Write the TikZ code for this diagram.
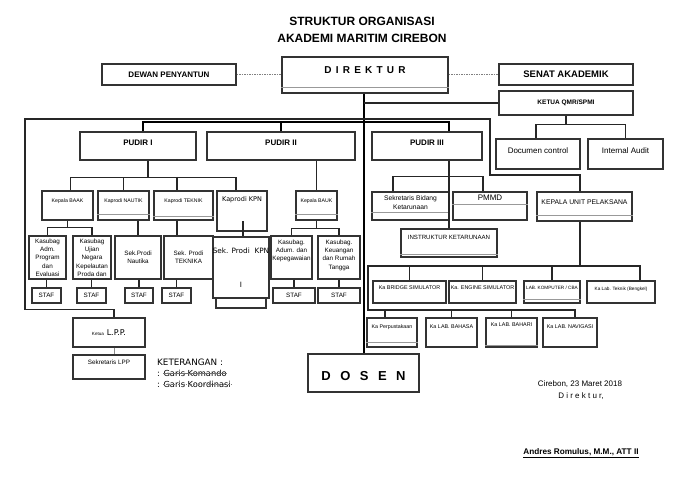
\documentclass[tikz,border=0pt]{standalone}
\usepackage{fontspec}
\setmainfont{Liberation Sans}
\newfontfamily\dvs{DejaVu Sans}

\newcommand{\fsz}[2]{\fontsize{#1}{#2}\selectfont}

\begin{document}
\begin{tikzpicture}[x=1pt, y=-1pt,
    corners/.style n args={4}{at={({(#1+#3)/2},{(#2+#4)/2})}, minimum width=#3-#1, minimum height=#4-#2},
    box/.style={draw=black!80, line width=1.1pt, fill=white, inner sep=0pt, align=center},
    lbl/.style={inner sep=0pt, align=center},
    lift/.style={text depth=#1},
    inner/.style={draw=black!40, line width=0.6pt},
    cmd/.style={draw=black!85, line width=1.2pt},
    main/.style={draw=black, line width=2pt},
    coord/.style={draw=black!50, line width=0.6pt, dash pattern=on 1.5pt off 1pt},
    pud/.style={font=\bfseries\fsz{8}{8}},
    kepala/.style={font=\fsz{5.2}{6}},
    sub/.style={font=\fsz{6.3}{8.3}},
    staf/.style={font=\fsz{6.3}{6.3}},
    lab/.style={font=\fsz{5.4}{6}}]
    \useasboundingbox (0,0) rectangle (700,494);

    % judul
    \node[lbl, font=\bfseries\fsz{12}{12}] (judul1) at (362,21) {STRUKTUR ORGANISASI};
    \node[lbl, font=\bfseries\fsz{12}{12}] (judul2) at (362,38) {AKADEMI MARITIM CIREBON};

    % pimpinan
    \node[box, corners={282}{57}{448}{93}, lift=10pt, font=\bfseries\fsz{10}{10}] (dir) {\spaceskip=4.2pt D I R E K T U R};
    \node[box, corners={102}{64}{236}{85}, font=\bfseries\fsz{8}{8}] (dewan) {DEWAN PENYANTUN};
    \node[box, corners={499}{64}{633}{85}, font=\bfseries\fsz{9.5}{9.5}] (senat) {SENAT AKADEMIK};
    \node[box, corners={499}{91}{633}{115}, font=\bfseries\fsz{6.5}{6.5}] (qmr) {KETUA QMR/SPMI};
    \node[box, corners={496}{139}{580}{169}, lift=6pt, font=\fsz{8}{8}] (doc) {Documen control};
    \node[box, corners={588}{139}{663}{169}, lift=6pt, font=\fsz{8}{8}] (audit) {Internal Audit};

    \node[box, pud, corners={80}{132}{196}{160}, lift=6pt] (pud1) {PUDIR I};
    \node[box, pud, corners={207}{132}{355}{160}, lift=6pt] (pud2) {PUDIR II};
    \node[box, pud, corners={372}{132}{482}{160}, lift=6pt] (pud3) {PUDIR III};

    % pudir I
    \node[box, kepala, corners={42}{191}{93}{220}, lift=9pt] (baak) {Kepala BAAK};
    \node[box, kepala, corners={98}{191}{149}{220}, lift=9pt] (naut) {Kaprodi NAUTIK};
    \node[box, kepala, corners={154}{191}{213}{220}, lift=9pt] (tek) {Kaprodi TEKNIK};
    \node[box, corners={217}{191}{267}{231}, lift=24pt, font=\dvs\fsz{6.5}{6.5}] (kpn) {Kaprodi KPN};
    \node[box, sub, corners={29}{236}{66}{279}] (kas1) {Kasubag\\Adm.\\Program\\dan\\Evaluasi};
    \node[box, sub, corners={73}{236}{111}{279}] (kas2) {Kasubag\\Ujian\\Negara\\Kepelautan\\Proda dan};
    \node[box, sub, corners={115}{236}{161}{279}] (sekn) {Sek.Prodi\\Nautika};
    \node[box, sub, corners={164}{236}{213}{279}] (sekt) {Sek. Prodi\\TEKNIKA};
    \node[box, corners={216}{297}{266}{308}] (kpnstaf) {};
    \node[box, corners={213}{237}{269}{298}] (sekkpn) {};
    \node[lbl, font=\dvs\fsz{7.3}{7.3}] (sekkpn1) at (241,251) {Sek. Prodi\ \ KPN};
    \node[lbl, font=\dvs\fsz{7.3}{7.3}] (sekkpn2) at (241,285) {I};
    \node[box, staf, corners={32}{288}{61}{303}] (staf1) {STAF};
    \node[box, staf, corners={77}{288}{106}{303}] (staf2) {STAF};
    \node[box, staf, corners={125}{288}{153}{303}] (stafn) {STAF};
    \node[box, staf, corners={162}{288}{191}{303}] (staft) {STAF};

    % pudir II
    \node[box, kepala, corners={296}{191}{337}{220}, lift=9pt] (bauk) {Kepala BAUK};
    \node[box, corners={271}{236}{312}{279}] (adum) {};
    \node[box, corners={318}{236}{360}{279}] (keu) {};
    \node[lbl, sub, anchor=north] (adumtxt) at (291.5,239.5) {Kasubag.\\Adum. dan\\Kepegawaian};
    \node[lbl, sub, anchor=north] (keutxt) at (339,239.5) {Kasubag.\\Keuangan\\dan Rumah\\Tangga};
    \node[box, staf, corners={273}{288}{315}{303}] (stafadum) {STAF};
    \node[box, staf, corners={318}{288}{360}{303}] (stafkeu) {STAF};

    % pudir III
    \node[box, corners={372}{192}{449}{220}] (sekbid) {};
    \node[lbl, font=\fsz{6.7}{9}] (sekbidtxt) at (410.5,202.5) {Sekretaris Bidang\\Ketarunaan};
    \node[box, corners={453}{192}{527}{220}, lift=16pt, font=\fsz{8}{8}] (pmmd) {PMMD};
    \node[box, corners={537}{192}{632}{221}, lift=9pt, font=\fsz{6.8}{6.8}] (kup) {KEPALA UNIT PELAKSANA};
    \node[box, corners={401}{229}{497}{257}, lift=12pt, font=\fsz{6.1}{6.1}] (instr) {INSTRUKTUR KETARUNAAN};

    % unit pelaksana
    \node[box, lab, corners={373}{281}{446}{303}, lift=8pt] (bridge) {Ka BRIDGE SIMULATOR};
    \node[box, lab, corners={449}{281}{516}{303}, lift=8pt] (engine) {Ka. ENGINE SIMULATOR};
    \node[box, corners={524}{281}{580}{303}, lift=9pt, font=\fsz{4.7}{4.7}] (komp) {LAB. KOMPUTER / CBA};
    \node[box, corners={587}{281}{655}{303}, lift=7pt, font=\fsz{4.7}{4.7}] (bengkel) {Ka Lab. Teknik (Bengkel)};
    \node[box, corners={367}{318}{417}{347}, lift=11pt, font=\fsz{5.3}{5.3}] (perpus) {Ka Perpustakaan};
    \node[box, lab, corners={426}{318}{477}{347}, lift=11pt] (bahasa) {Ka LAB. BAHASA};
    \node[box, lab, corners={486}{318}{537}{347}, lift=15pt] (bahari) {Ka LAB. BAHARI};
    \node[box, lab, corners={543}{318}{597}{347}, lift=11pt] (navi) {Ka LAB. NAVIGASI};

    % dosen dan lpp
    \node[box, corners={308}{354}{419}{392}, text height=15pt, font=\bfseries\fsz{13}{13}] (dosen) {\spaceskip=9.5pt D O S E N};
    \node[box, corners={73}{318}{145}{347}] (lpp) {{\fsz{4.6}{5}Ketua} {\dvs\fsz{8}{8}L.P.P.}};
    \node[box, corners={73}{355}{145}{379}, lift=10pt, font=\fsz{6.3}{6.3}] (seklpp) {Sekretaris LPP};

    % garis dalam
    \draw[inner] ([yshift=6pt]dir.south west) -- ([yshift=6pt]dir.south east);
    \draw[inner] ([yshift=6pt]naut.south west) -- ([yshift=6pt]naut.south east);
    \draw[inner] ([yshift=4pt]tek.south west) -- ([yshift=4pt]tek.south east);
    \draw[inner] ([yshift=6pt]bauk.south west) -- ([yshift=6pt]bauk.south east);
    \draw[inner] ([yshift=8pt]sekbid.south west) -- ([yshift=8pt]sekbid.south east);
    \draw[inner] ([yshift=16pt]pmmd.south west) -- ([yshift=16pt]pmmd.south east);
    \draw[inner] ([yshift=6pt]kup.south west) -- ([yshift=6pt]kup.south east);
    \draw[inner] ([yshift=3pt]instr.south west) -- ([yshift=3pt]instr.south east);
    \draw[inner] ([yshift=4pt]komp.south west) -- ([yshift=4pt]komp.south east);
    \draw[inner] ([yshift=5pt]perpus.south west) -- ([yshift=5pt]perpus.south east);
    \draw[inner] ([yshift=2pt]bahari.south west) -- ([yshift=2pt]bahari.south east);

    % garis koordinasi
    \draw[coord] (dewan.east) -- (dir.west |- dewan.east);
    \draw[coord] (dir.east |- senat.west) -- (senat.west);

    % garis komando
    \draw[main] (dir.south -| dosen.north) -- (dosen.north);
    \draw[cmd] (dosen.north |- qmr.west) -- (qmr.west);
    \draw[cmd] (qmr.south) -- ++(0,9) coordinate (qmrbus);
    \draw[cmd] ([xshift=-2pt]doc.north) |- (qmrbus) -| (audit.north);
    \draw[main] ([xshift=5pt]pud1.north) -- ++(0,-9) -| (instr.north |- pud3.north);
    \draw[main] (pud2.north) -- ++(0,-9);

    \coordinate (frameNW) at (25,119);
    \coordinate (frameNE) at (490,175);
    \draw[cmd] ([xshift=5pt]lpp.north) -- ++(0,-8) -| (frameNW) -| (frameNE) -| ([xshift=-4.5pt]kup.north);
    \draw[black!45, line width=0.8pt] ([xshift=5pt]lpp.south) -- ([xshift=5pt]seklpp.north);

    % pudir I
    \draw[cmd] ([xshift=10pt]pud1.south) -- ++(0,17) coordinate (p1bus);
    \draw[cmd] ([xshift=3pt]baak.north) |- (p1bus) -| ([xshift=-6pt]kpn.north);
    \draw[cmd] (naut.north |- p1bus) -- (naut.north);
    \coordinate (tekline) at (177,177);
    \draw[cmd] (tekline) -- (tekline |- tek.north);
    \draw[cmd] (tekline |- tek.south) -- (tekline |- sekt.north);
    \draw[cmd] (sekn.north |- naut.south) -- (sekn.north);
    \draw[cmd] ([xshift=2pt]sekkpn.north) -- ++(0,-15);
    \draw[cmd] (baak.south) -- ++(0,7) coordinate (baakbus);
    \draw[cmd] (kas1.north) |- (baakbus) -| (kas2.north);
    \draw[cmd] (staf1.north |- kas1.south) -- (staf1.north);
    \draw[cmd] (staf2.north |- kas2.south) -- (staf2.north);
    \draw[cmd] (stafn.north |- sekn.south) -- (stafn.north);
    \draw[cmd] (staft.north |- sekt.south) -- (staft.north);

    % pudir II
    \draw[cmd] (bauk.north |- pud2.south) -- (bauk.north);
    \draw[cmd] (bauk.south) -- ++(0,8) coordinate (baukbus);
    \draw[cmd] (adum.north) |- (baukbus) -| (keu.north);
    \draw[cmd] (stafadum.north |- adum.south) -- (stafadum.north);
    \draw[cmd] (stafkeu.north |- keu.south) -- (stafkeu.north);

    % pudir III
    \draw[cmd] (instr.north |- pud3.south) -- (instr.north);
    \draw[cmd] ([xshift=-17.5pt]sekbid.north) -- ++(0,-15) -| ([xshift=-7pt]pmmd.north);

    % unit pelaksana
    \coordinate (unitNW) at (368,266);
    \coordinate (unitSW) at (368,310);
    \draw[cmd] ([xshift=-4.5pt]kup.south) -- ++(0,45);
    \draw[cmd] ([xshift=19pt]bengkel.north) |- (unitNW) -- (unitSW) -| ([xshift=5pt]navi.north);
    \draw[cmd] (bridge.north |- unitNW) -- (bridge.north);
    \draw[cmd] (engine.north |- unitNW) -- (engine.north);
    \draw[cmd] (komp.north |- unitNW) -- (komp.north);
    \draw[cmd] ([xshift=-7pt]perpus.north) -- ++(0,-8);
    \draw[cmd] (bahasa.north |- unitSW) -- (bahasa.north);
    \draw[cmd] (bahari.north |- unitSW) -- (bahari.north);

    % keterangan
    \node[lbl, anchor=west, font=\dvs\fsz{8.8}{8.8}] (ket) at (157,362) {KETERANGAN :};
    \node[lbl, anchor=west, font=\dvs\fsz{8.3}{8.3}] (komando) at (157,373) {: Garis Komando};
    \node[lbl, anchor=west, font=\dvs\fsz{8.3}{8.3}] (koord) at (157,384) {: Garis Koordinasi};
    \draw[black!55, line width=0.6pt] ([xshift=6pt]komando.west) -- (komando.east);
    \draw[coord] ([xshift=6pt]koord.west) -- (koord.east);

    % tanda tangan
    \node[lbl, font=\fsz{8}{8}] (tgl) at (580,384) {Cirebon, 23 Maret 2018};
    \node[lbl, font=\fsz{8}{8}] (ttd) at (581,396) {D i r e k t u r,};
    \node[lbl, font=\bfseries\fsz{8.2}{8.2}] (nama) at (581,453) {\underline{Andres Romulus, M.M., ATT II}};
\end{tikzpicture}
\end{document}
